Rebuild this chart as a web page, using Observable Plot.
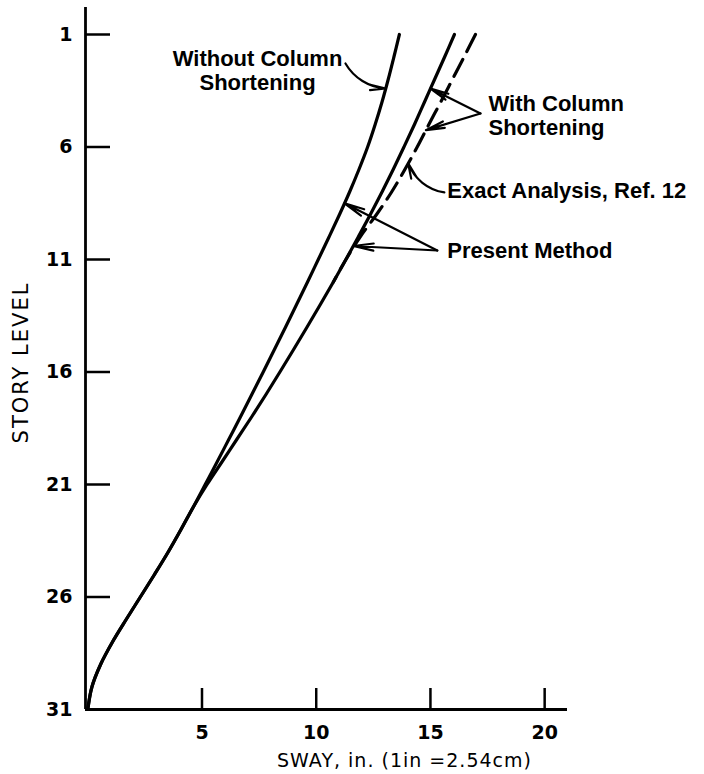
<!DOCTYPE html>
<html>
<head>
<meta charset="utf-8">
<script src="https://cdn.jsdelivr.net/npm/d3@7"></script>
<script src="https://cdn.jsdelivr.net/npm/@observablehq/plot@0.6"></script>
<style>
  html, body { margin: 0; padding: 0; background: #fff; }
  #chart svg { display: block; }
</style>
</head>
<body>
<div id="chart"></div>
<script>
// ---- data ----
const stories = d3.range(1, 32); // story levels 1..31
const swayWithout = [13.64, 13.40, 13.15, 12.88, 12.58, 12.25, 11.87, 11.46, 11.02, 10.56,
  10.09, 9.62, 9.14, 8.66, 8.17, 7.68, 7.18, 6.68, 6.17, 5.66,
  5.14, 4.62, 4.08, 3.52, 2.92, 2.30, 1.68, 1.08, 0.56, 0.18, 0];
const swayPresent = [16.05, 15.62, 15.18, 14.74, 14.30, 13.84, 13.37, 12.88, 12.37, 11.84,
  11.30, 10.75, 10.18, 9.60, 9.01, 8.41, 7.80, 7.17, 6.52, 5.87,
  5.22, 4.62, 4.08, 3.52, 2.92, 2.30, 1.68, 1.08, 0.56, 0.18, 0];
const exactStories = d3.range(1, 13);
const swayExact = [16.97, 16.47, 15.96, 15.45, 14.93, 14.42, 13.88, 13.30, 12.64, 11.92, 11.30, 10.75];

const xTicks = [5, 10, 15, 20];
const yTicks = [1, 6, 11, 16, 21, 26, 31];
const xTitle = "SWAY, in. (1in =2.54cm)";
const yTitle = "STORY LEVEL";

// ---- annotations ----
const noteText = ["Without Column\nShortening", "With Column\nShortening", "Exact Analysis, Ref. 12", "Present Method"];
const noteX = [7.43, 17.54, 15.74, 15.74];
const noteStory = [2.6, 4.58, 7.93, 10.6];

// leaders: start (sway, story) -> tip on a curve at a given story
const leaderStart = [[11.28, 2.29], [17.19, 4.51], [17.19, 4.51], [15.61, 8.02], [15.30, 10.6], [15.30, 10.6]];
const leaderCurve = ["without", "present", "exact", "exact", "without", "present"];
const leaderAt = [3.4, 3.4, 5.25, 6.73, 8.5, 10.4];
const leaderBend = [-28, 0, 0, 30, 0, 0];

// ---- helpers ----
const series = {without: swayWithout, present: swayPresent, exact: swayExact};
function swayAt(name, s) {
  const arr = series[name];
  const i = Math.floor(s) - 1;
  const t = s - Math.floor(s);
  return arr[i] * (1 - t) + arr[Math.min(i + 1, arr.length - 1)] * t;
}
const leaders = leaderStart.map((p, i) => ({
  x1: p[0], y1: p[1], x2: swayAt(leaderCurve[i], leaderAt[i]), y2: leaderAt[i], bend: leaderBend[i]
}));
const withoutRows = stories.map((s, i) => ({story: s, sway: swayWithout[i]}));
const presentRows = stories.map((s, i) => ({story: s, sway: swayPresent[i]}));
const exactRows = exactStories.map((s, i) => ({story: s, sway: swayExact[i]}));
const notes = noteText.map((t, i) => ({text: t, x: noteX[i], y: noteStory[i]}));

const xDomain = [-0.1, 21];
const yDomain = [31, -0.2];

const dejavu = "'DejaVu Sans', sans-serif";
const arrowOpts = {x1: "x1", y1: "y1", x2: "x2", y2: "y2", stroke: "#000", strokeWidth: 2.2, headLength: 14, headAngle: 20};

const chart = Plot.plot({
  width: 704,
  height: 774,
  marginLeft: 85,
  marginRight: 137,
  marginTop: 7,
  marginBottom: 65,
  x: {domain: xDomain},
  y: {domain: yDomain},
  style: {fontFamily: "'Liberation Sans', Arial, sans-serif", background: "#fff", color: "#000", overflow: "visible"},
  marks: [
    Plot.ruleX([xDomain[0]], {stroke: "#000", strokeWidth: 2.8}),
    Plot.ruleY([yDomain[0]], {stroke: "#000", strokeWidth: 2.8}),
    Plot.axisX({ticks: xTicks, tickFormat: d => `${d}`, tickSize: -21, tickPadding: 37, strokeWidth: 2.5,
      stroke: "#000", fill: "#000", fontSize: 19, fontWeight: "bold", fontFamily: dejavu, label: null}),
    Plot.axisY({ticks: yTicks, tickFormat: d => `${d}`, tickSize: -25, tickPadding: 38, strokeWidth: 2.5,
      stroke: "#000", fill: "#000", fontSize: 19, fontWeight: "bold", fontFamily: dejavu, label: null}),
    Plot.line(withoutRows, {x: "sway", y: "story", curve: "catmull-rom", stroke: "#000", strokeWidth: 3.2}),
    Plot.line(presentRows, {x: "sway", y: "story", curve: "catmull-rom", stroke: "#000", strokeWidth: 3.2}),
    Plot.line(exactRows, {x: "sway", y: "story", curve: "catmull-rom", stroke: "#000", strokeWidth: 3.2, strokeDasharray: "19,9"}),
    Plot.arrow(leaders.filter(d => d.bend === 0), arrowOpts),
    Plot.arrow(leaders.filter(d => d.bend < 0), {...arrowOpts, bend: -28}),
    Plot.arrow(leaders.filter(d => d.bend > 0), {...arrowOpts, bend: 30}),
    Plot.text(notes.slice(0, 1), {x: "x", y: "y", text: "text", textAnchor: "middle", lineAnchor: "middle",
      fill: "#000", fontSize: 22, fontWeight: "bold", lineHeight: 1.1}),
    Plot.text(notes.slice(1), {x: "x", y: "y", text: "text", textAnchor: "start", lineAnchor: "middle",
      fill: "#000", fontSize: 22, fontWeight: "bold", lineHeight: 1.1}),
    Plot.text([xTitle], {frameAnchor: "bottom", dx: 78, dy: 51, fontSize: 19, fontFamily: dejavu,
      textAnchor: "middle", lineAnchor: "middle", fill: "#000"}),
    Plot.text([yTitle], {frameAnchor: "left", dx: -64, dy: 4, rotate: -90, fontSize: 21, fontFamily: dejavu,
      textAnchor: "middle", lineAnchor: "middle", fill: "#000"})
  ]
});
document.getElementById("chart").append(chart);

// letter spacing for the drafted axis titles
d3.select(chart).selectAll("text").each(function () {
  const t = this.textContent;
  if (t === xTitle) this.style.letterSpacing = "1px";
  else if (t === yTitle) this.style.letterSpacing = "2px";
});
</script>
</body>
</html>
